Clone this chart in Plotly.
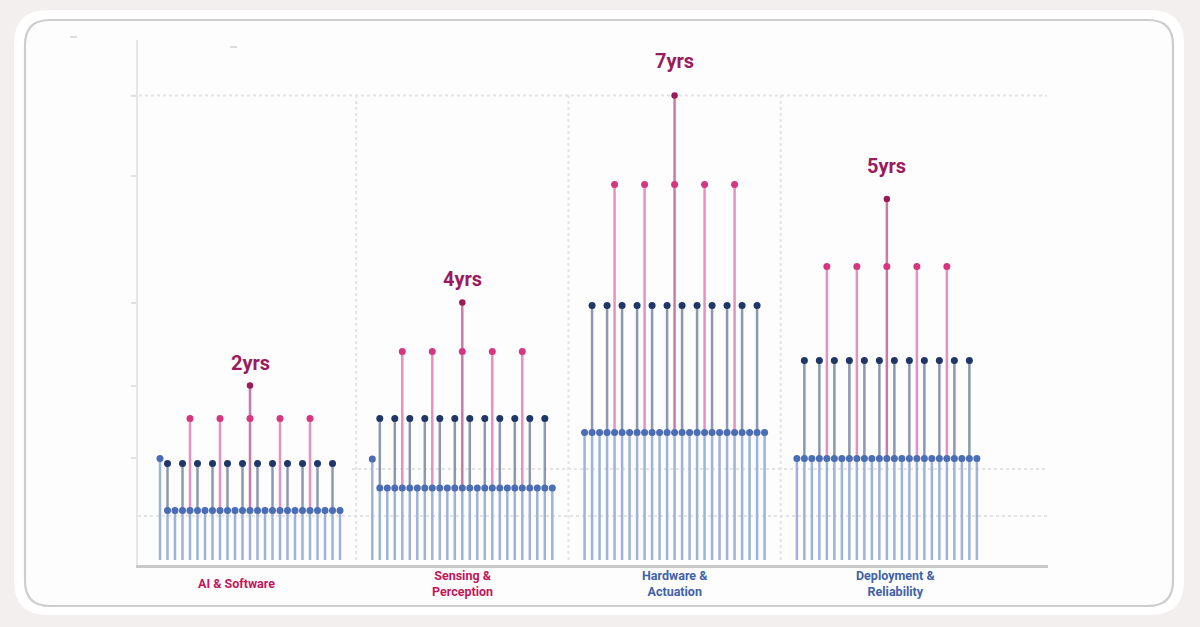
import plotly.graph_objects as go

# ---------------- data ----------------
categories = ["AI & Software", "Sensing &<br>Perception", "Hardware &<br>Actuation", "Deployment &<br>Reliability"]
category_colors = ["#c4155c", "#c4155c", "#3f62a8", "#3f62a8"]
category_label_shift = [-14, 0, 0, 9]
year_labels = ["2yrs", "4yrs", "7yrs", "5yrs"]
year_label_y = [39.5, 56.2, 99.9, 78.9]

base_values = [9.9, 14.4, 25.5, 20.3]     # blue dots (every stem)
first_values = [20.3, 20.2, 25.5, 20.3]   # leftmost blue stem of each group
dark_values = [19.3, 28.3, 50.9, 39.9]    # navy stems
pink_values = [28.3, 41.7, 75.1, 58.7]    # pink stems
top_values = [34.9, 51.5, 92.9, 72.2]     # central highest stem

stems_per_section = 25
dark_slots = list(range(1, 25, 2))
pink_slots = [4, 8, 16, 20]
center_slot = 12

axis_ticks = [92.9, 76.8, 51.4, 34.8, 20.4]
grid_levels = [92.9, 18.2, 8.8]
grid_starts = [None, 0.48, None]

# ---------------- layout constants ----------------
W, H = 1200, 627
ML, MR, MT, MB = 138, 152, 40, 62
PW, PH = W - ML - MR, H - MT - MB
STEP = 0.03533
XR = [-0.5276, 3.759]
YR = [-1, 104]

C_LIGHT = "#9fb2d7"
C_BLUE = "#4a6db4"
C_DARK_LINE = "#8b98ad"
C_DARK_DOT = "#1f3766"
C_PINK_LINE = "#e690bf"
C_PINK_DOT = "#d6367f"
C_TOP_LINE = "#c97aa6"
C_TOP_DOT = "#9b1a5a"
C_GRID = "#e3e3e3"


def sx(i, k):
    return i + (k - center_slot) * STEP


def seg_trace(xs_pairs, color, width=2.5):
    xs, ys = [], []
    for x, y0, y1 in xs_pairs:
        xs += [x, x, None]
        ys += [y0, y1, None]
    return go.Scatter(x=xs, y=ys, mode="lines", line=dict(color=color, width=width),
                      hoverinfo="skip", showlegend=False)


def dot_trace(points, color, size=7):
    return go.Scatter(x=[p[0] for p in points], y=[p[1] for p in points], mode="markers",
                      marker=dict(color=color, size=size, line=dict(width=0)),
                      hoverinfo="skip", showlegend=False)


light, dark, pink, center = [], [], [], []
blue_pts, dark_pts, pink_pts, top_pts = [], [], [], []
for i in range(len(categories)):
    for k in range(stems_per_section):
        x = sx(i, k)
        lvl = first_values[i] if k == 0 else base_values[i]
        light.append((x, 0, lvl))
        blue_pts.append((x, lvl))
        if k in dark_slots:
            dark.append((x, base_values[i], dark_values[i]))
            dark_pts.append((x, dark_values[i]))
        if k in pink_slots:
            pink.append((x, base_values[i], pink_values[i]))
            pink_pts.append((x, pink_values[i]))
        if k == center_slot:
            center.append((x, base_values[i], top_values[i]))
            pink_pts.append((x, pink_values[i]))
            top_pts.append((x, top_values[i]))

fig = go.Figure()
fig.add_trace(seg_trace(light, C_LIGHT))
fig.add_trace(seg_trace(dark, C_DARK_LINE))
fig.add_trace(seg_trace(pink, C_PINK_LINE))
fig.add_trace(seg_trace(center, C_TOP_LINE))
fig.add_trace(dot_trace(blue_pts, C_BLUE))
fig.add_trace(dot_trace(dark_pts, C_DARK_DOT))
fig.add_trace(dot_trace(pink_pts, C_PINK_DOT))
fig.add_trace(dot_trace(top_pts, C_TOP_DOT, 6.5))


# ---------------- background card ----------------
def pp(x, y):
    return (x - ML) / PW, (H - MB - y) / PH


def rrect(x0, y0, x1, y1, r):
    pts = [("M", [(x0 + r, y0)]), ("L", [(x1 - r, y0)]), ("Q", [(x1, y0), (x1, y0 + r)]),
           ("L", [(x1, y1 - r)]), ("Q", [(x1, y1), (x1 - r, y1)]), ("L", [(x0 + r, y1)]),
           ("Q", [(x0, y1), (x0, y1 - r)]), ("L", [(x0, y0 + r)]), ("Q", [(x0, y0), (x0 + r, y0)])]
    s = ""
    for cmd, ps in pts:
        s += cmd + " " + " ".join("%.5f,%.5f" % pp(*p) for p in ps) + " "
    return s + "Z"


shapes = [
    dict(type="path", xref="paper", yref="paper", path=rrect(14, 10, 1184, 615, 34),
         fillcolor="#ffffff", line=dict(width=0), layer="below"),
    dict(type="path", xref="paper", yref="paper", path=rrect(25, 20, 1173, 606, 25),
         fillcolor="#fdfdfd", line=dict(color="#cdcdcd", width=2.2), layer="below"),
]
# dotted grid lines
for lvl, start in zip(grid_levels, grid_starts):
    if start is None:
        shapes.append(dict(type="line", xref="paper", yref="y", x0=-5 / PW if lvl == grid_levels[0] else 0,
                           x1=0.999, y0=lvl, y1=lvl, line=dict(color=C_GRID, width=2, dash="dot"),
                           layer="below"))
    else:
        shapes.append(dict(type="line", xref="x", yref="y", x0=start, x1=XR[1] - 0.005,
                           y0=lvl, y1=lvl, line=dict(color=C_GRID, width=2, dash="dot"), layer="below"))
# group separators
for i in range(len(categories) - 1):
    shapes.append(dict(type="line", xref="x", yref="y", x0=i + 0.5, x1=i + 0.5, y0=0, y1=grid_levels[0],
                       line=dict(color=C_GRID, width=2, dash="dot"), layer="below"))
# tiny stray dashes at top-left
for (a, b, y) in [(70, 77, 37), (230, 237, 47)]:
    x0, yy = pp(a, y)
    x1, _ = pp(b, y)
    shapes.append(dict(type="line", xref="paper", yref="paper", x0=x0, x1=x1, y0=yy, y1=yy,
                       line=dict(color="#dcdcdc", width=2)))

annotations = []
for i, (lab, ly) in enumerate(zip(year_labels, year_label_y)):
    annotations.append(dict(x=i, y=ly, xref="x", yref="y", text="<b>%s</b>" % lab, showarrow=False,
                            font=dict(family="Roboto", size=20, color="#9b1b5f"),
                            xanchor="center", yanchor="middle"))
for i, (cat, col, sh) in enumerate(zip(categories, category_colors, category_label_shift)):
    annotations.append(dict(x=i, y=-(583 - (H - MB)) / PH, xref="x", yref="paper", xshift=sh,
                            text="<b>%s</b>" % cat, showarrow=False,
                            font=dict(family="Roboto", size=12.5, color=col),
                            xanchor="center", yanchor="middle", align="center"))

fig.update_layout(
    width=W, height=H,
    margin=dict(l=ML, r=MR, t=MT, b=MB, pad=0),
    paper_bgcolor="#f3efee",
    plot_bgcolor="rgba(0,0,0,0)",
    shapes=shapes,
    annotations=annotations,
    showlegend=False,
    xaxis=dict(range=XR, showgrid=False, zeroline=False, showticklabels=False, ticks="",
               showline=True, linecolor="#c9c9c9", linewidth=2.5, fixedrange=True),
    yaxis=dict(range=YR, showgrid=False, zeroline=False, showticklabels=False,
               tickmode="array", tickvals=axis_ticks, ticks="outside", ticklen=5,
               tickcolor="#e2e2e2", tickwidth=2,
               showline=True, linecolor="#e6e6e6", linewidth=2, fixedrange=True),
)

fig.write_html(
    "out.html",
    config={"displayModeBar": False},
    post_script="document.body.style.margin='0';document.body.style.background='#f3efee';",
)
